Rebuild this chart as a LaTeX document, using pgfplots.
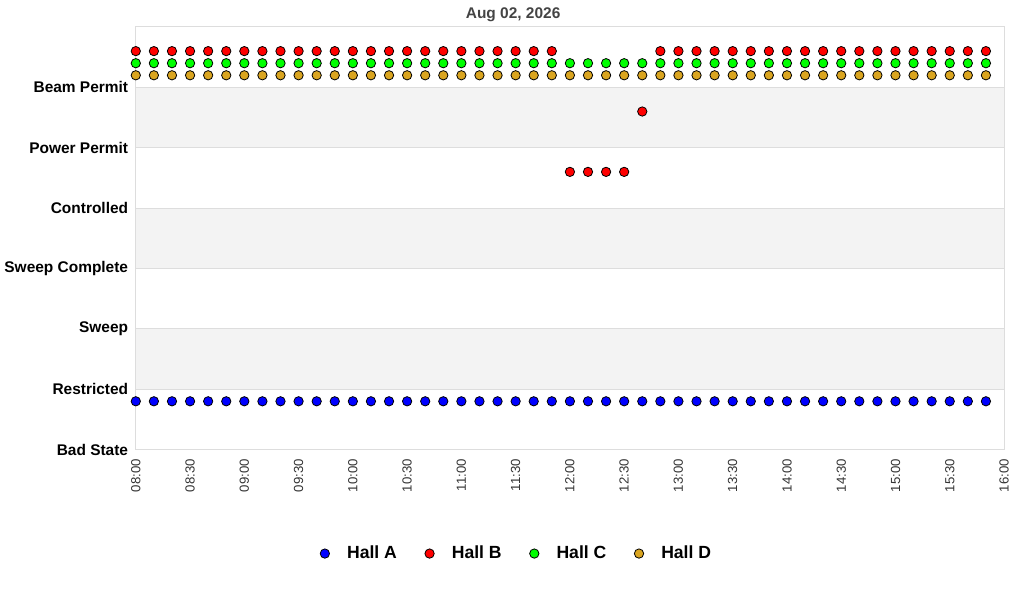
\documentclass[border=0pt]{standalone}
\usepackage{pgfplots}
\pgfplotsset{compat=1.18}
\usepackage{fontspec}
\setmainfont{Liberation Sans}
\definecolor{bandgray}{HTML}{F3F3F3}
\definecolor{gridgray}{HTML}{DDDDDD}
\definecolor{hallA}{HTML}{0000FF}
\definecolor{hallB}{HTML}{FF0000}
\definecolor{hallC}{HTML}{00FF00}
\definecolor{hallD}{HTML}{DAA520}
\definecolor{titlegray}{HTML}{444444}
\pgfplotsset{hall/.style={only marks, mark=*, mark size=3.5pt, mark options={draw=black, line width=0.6pt, fill=#1}}}
\begin{document}
\begin{tikzpicture}
\path (0,0) rectangle (768pt,450pt);
\node[font=\bfseries\fontsize{11.6}{14}\selectfont, text=titlegray] at (384.5pt,438.75pt) {Aug 02, 2026};
\begin{axis}[
  set layers,
  at={(101.25pt,112.5pt)}, anchor=south west,
  scale only axis, width=651.75pt, height=317.25pt,
  xmin=0, xmax=480, ymin=0, ymax=7,
  xtick={0,30,...,480},
  xticklabels={08:00,08:30,09:00,09:30,10:00,10:30,11:00,11:30,12:00,12:30,13:00,13:30,14:00,14:30,15:00,15:30,16:00},
  ytick={0,1,2,3,4,5,6},
  yticklabels={Bad State,Restricted,Sweep,Sweep Complete,Controlled,Power Permit,Beam Permit},
  major tick length=0pt,
  axis line style={gridgray, line width=0.75pt},
  ymajorgrids, grid style={gridgray, line width=0.75pt},
  yticklabel style={font=\bfseries\fontsize{11.6}{14}\selectfont, xshift=-2.25pt},
  xticklabel style={font=\fontsize{9.9}{12}\selectfont, rotate=90, anchor=east, text=black!80, xshift=-3.75pt},
  legend columns=4,
  legend style={draw=none, fill=none, at={(0.4385,-0.246)}, anchor=center,
    font=\bfseries\fontsize{13.2}{16}\selectfont,
    /tikz/every even column/.append style={column sep=18.3pt}},
  legend image code/.code={\path (-4pt,0pt) (14.5pt,0pt); \draw[#1] plot coordinates {(0pt,0pt)};},
]
\addplot[fill=bandgray, draw=none, mark=none, forget plot, on layer=axis background] coordinates {(0,1) (480,1) (480,2) (0,2)} -- cycle;
\addplot[fill=bandgray, draw=none, mark=none, forget plot, on layer=axis background] coordinates {(0,3) (480,3) (480,4) (0,4)} -- cycle;
\addplot[fill=bandgray, draw=none, mark=none, forget plot, on layer=axis background] coordinates {(0,5) (480,5) (480,6) (0,6)} -- cycle;
\addplot[hall=hallA] table {
x y
0 0.8
10 0.8
20 0.8
30 0.8
40 0.8
50 0.8
60 0.8
70 0.8
80 0.8
90 0.8
100 0.8
110 0.8
120 0.8
130 0.8
140 0.8
150 0.8
160 0.8
170 0.8
180 0.8
190 0.8
200 0.8
210 0.8
220 0.8
230 0.8
240 0.8
250 0.8
260 0.8
270 0.8
280 0.8
290 0.8
300 0.8
310 0.8
320 0.8
330 0.8
340 0.8
350 0.8
360 0.8
370 0.8
380 0.8
390 0.8
400 0.8
410 0.8
420 0.8
430 0.8
440 0.8
450 0.8
460 0.8
470 0.8
};
\addlegendentry{Hall A}
\addplot[hall=hallB] table {
x y
0 6.6
10 6.6
20 6.6
30 6.6
40 6.6
50 6.6
60 6.6
70 6.6
80 6.6
90 6.6
100 6.6
110 6.6
120 6.6
130 6.6
140 6.6
150 6.6
160 6.6
170 6.6
180 6.6
190 6.6
200 6.6
210 6.6
220 6.6
230 6.6
240 4.6
250 4.6
260 4.6
270 4.6
280 5.6
290 6.6
300 6.6
310 6.6
320 6.6
330 6.6
340 6.6
350 6.6
360 6.6
370 6.6
380 6.6
390 6.6
400 6.6
410 6.6
420 6.6
430 6.6
440 6.6
450 6.6
460 6.6
470 6.6
};
\addlegendentry{Hall B}
\addplot[hall=hallC] table {
x y
0 6.4
10 6.4
20 6.4
30 6.4
40 6.4
50 6.4
60 6.4
70 6.4
80 6.4
90 6.4
100 6.4
110 6.4
120 6.4
130 6.4
140 6.4
150 6.4
160 6.4
170 6.4
180 6.4
190 6.4
200 6.4
210 6.4
220 6.4
230 6.4
240 6.4
250 6.4
260 6.4
270 6.4
280 6.4
290 6.4
300 6.4
310 6.4
320 6.4
330 6.4
340 6.4
350 6.4
360 6.4
370 6.4
380 6.4
390 6.4
400 6.4
410 6.4
420 6.4
430 6.4
440 6.4
450 6.4
460 6.4
470 6.4
};
\addlegendentry{Hall C}
\addplot[hall=hallD] table {
x y
0 6.2
10 6.2
20 6.2
30 6.2
40 6.2
50 6.2
60 6.2
70 6.2
80 6.2
90 6.2
100 6.2
110 6.2
120 6.2
130 6.2
140 6.2
150 6.2
160 6.2
170 6.2
180 6.2
190 6.2
200 6.2
210 6.2
220 6.2
230 6.2
240 6.2
250 6.2
260 6.2
270 6.2
280 6.2
290 6.2
300 6.2
310 6.2
320 6.2
330 6.2
340 6.2
350 6.2
360 6.2
370 6.2
380 6.2
390 6.2
400 6.2
410 6.2
420 6.2
430 6.2
440 6.2
450 6.2
460 6.2
470 6.2
};
\addlegendentry{Hall D}
\end{axis}
\end{tikzpicture}
\end{document}
